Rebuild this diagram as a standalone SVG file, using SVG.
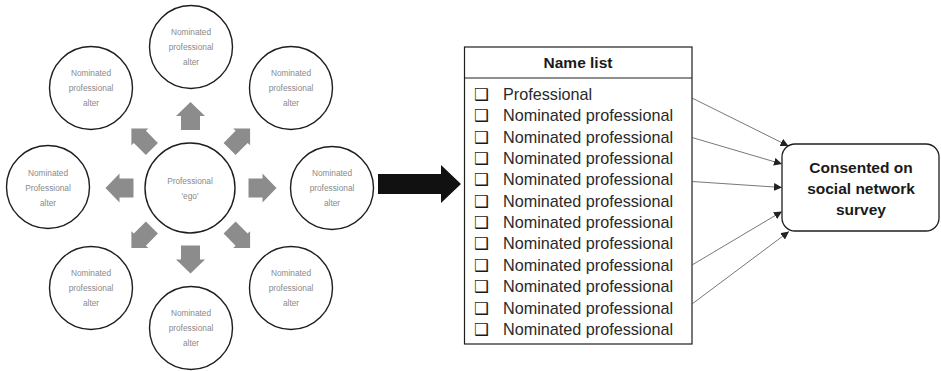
<svg xmlns="http://www.w3.org/2000/svg" xmlns:xlink="http://www.w3.org/1999/xlink" width="941" height="371" viewBox="0 0 941 371">
  <style>
    .circ { fill: #ffffff; stroke: #1e1e1e; stroke-width: 1.4; }
    .ctext { font-family: "Liberation Sans", Arial, sans-serif; font-size: 8.3px; fill: #8a8a8a; text-anchor: middle; }
    .blk { fill: #8c8c8c; }
    .list { font-family: "Liberation Sans", Arial, sans-serif; font-size: 16.2px; fill: #2a2a2a; }
    .chk { font-family: "DejaVu Sans", sans-serif; font-size: 16.5px; fill: #1a1a1a; }
    .head { font-family: "Liberation Sans", Arial, sans-serif; font-size: 15.5px; font-weight: bold; fill: #1a1a1a; text-anchor: middle; }
    .conn { stroke: #555555; stroke-width: 0.8; fill: none; marker-end: url(#tip); }
  </style>
  <defs>
    <!-- straight block arrow pointing right, centred on the origin -->
    <path id="blk" d="M-14,-9.5 H0 V-14.5 L14,0 L0,14.5 V9.5 H-14 Z"/>
    <!-- block arrow used on the diagonals -->
    <path id="blkd" d="M-14,-8.5 H3 V-12 L15,0 L3,12 V8.5 H-14 Z"/>
    <marker id="tip" viewBox="0 0 10 10" refX="10" refY="5" markerWidth="8" markerHeight="8" markerUnits="userSpaceOnUse" orient="auto">
      <path d="M0,0 L10,5 L0,10 Z" fill="#222222"/>
    </marker>
  </defs>

  <!-- ego network -->
  <g id="ego">
    <circle class="circ" cx="190" cy="188" r="45"/>
    <text class="ctext" x="190" y="184">Professional</text>
    <text class="ctext" x="190" y="199">'ego'</text>
  </g>
  <g id="alter-top">
    <circle class="circ" cx="191" cy="47" r="41.5"/>
    <text class="ctext" x="191" y="35">Nominated</text>
    <text class="ctext" x="191" y="50">professional</text>
    <text class="ctext" x="191" y="65">alter</text>
  </g>
  <g id="alter-top-left">
    <circle class="circ" cx="91" cy="88" r="41.5"/>
    <text class="ctext" x="91" y="76">Nominated</text>
    <text class="ctext" x="91" y="91">professional</text>
    <text class="ctext" x="91" y="106">alter</text>
  </g>
  <g id="alter-top-right">
    <circle class="circ" cx="291" cy="88" r="41.5"/>
    <text class="ctext" x="291" y="76">Nominated</text>
    <text class="ctext" x="291" y="91">professional</text>
    <text class="ctext" x="291" y="106">alter</text>
  </g>
  <g id="alter-left">
    <circle class="circ" cx="48" cy="187" r="41.5"/>
    <text class="ctext" x="48" y="176">Nominated</text>
    <text class="ctext" x="48" y="191">Professional</text>
    <text class="ctext" x="48" y="206">alter</text>
  </g>
  <g id="alter-right">
    <circle class="circ" cx="332" cy="188" r="41.5"/>
    <text class="ctext" x="332" y="176">Nominated</text>
    <text class="ctext" x="332" y="191">professional</text>
    <text class="ctext" x="332" y="206">alter</text>
  </g>
  <g id="alter-bottom-left">
    <circle class="circ" cx="91" cy="288" r="41.5"/>
    <text class="ctext" x="91" y="276">Nominated</text>
    <text class="ctext" x="91" y="291">professional</text>
    <text class="ctext" x="91" y="306">alter</text>
  </g>
  <g id="alter-bottom-right">
    <circle class="circ" cx="291" cy="288" r="41.5"/>
    <text class="ctext" x="291" y="276">Nominated</text>
    <text class="ctext" x="291" y="291">professional</text>
    <text class="ctext" x="291" y="306">alter</text>
  </g>
  <g id="alter-bottom">
    <circle class="circ" cx="191" cy="328" r="41.5"/>
    <text class="ctext" x="191" y="316">Nominated</text>
    <text class="ctext" x="191" y="331">professional</text>
    <text class="ctext" x="191" y="346">alter</text>
  </g>

  <!-- name list -->
  <g id="name-list">
    <rect x="464.5" y="47" width="227.5" height="297" fill="#ffffff" stroke="#1e1e1e" stroke-width="1.2"/>
    <line x1="464.5" y1="78" x2="692" y2="78" stroke="#1e1e1e" stroke-width="1.2"/>
    <text class="head" x="578" y="68">Name list</text>
    <g class="chk">
      <text x="474" y="100">❑</text>
      <text x="474" y="121.35">❑</text>
      <text x="474" y="142.7">❑</text>
      <text x="474" y="164.05">❑</text>
      <text x="474" y="185.4">❑</text>
      <text x="474" y="206.75">❑</text>
      <text x="474" y="228.1">❑</text>
      <text x="474" y="249.45">❑</text>
      <text x="474" y="270.8">❑</text>
      <text x="474" y="292.15">❑</text>
      <text x="474" y="313.5">❑</text>
      <text x="474" y="334.85">❑</text>
    </g>
    <g class="list">
      <text x="503" y="100">Professional</text>
      <text x="503" y="121.35">Nominated professional</text>
      <text x="503" y="142.7">Nominated professional</text>
      <text x="503" y="164.05">Nominated professional</text>
      <text x="503" y="185.4">Nominated professional</text>
      <text x="503" y="206.75">Nominated professional</text>
      <text x="503" y="228.1">Nominated professional</text>
      <text x="503" y="249.45">Nominated professional</text>
      <text x="503" y="270.8">Nominated professional</text>
      <text x="503" y="292.15">Nominated professional</text>
      <text x="503" y="313.5">Nominated professional</text>
      <text x="503" y="334.85">Nominated professional</text>
    </g>
  </g>

  <!-- survey outcome -->
  <g id="consented">
    <rect x="782" y="144" width="157" height="87" rx="13" ry="13" fill="#ffffff" stroke="#1e1e1e" stroke-width="1.3"/>
    <text class="head" x="861" y="173">Consented on</text>
    <text class="head" x="861" y="194">social network</text>
    <text class="head" x="861" y="215">survey</text>
  </g>

  <!-- connectors -->
  <g id="connectors">
    <use xlink:href="#blk" class="blk" transform="translate(190.5,116) rotate(-90)"/>
    <use xlink:href="#blk" class="blk" transform="translate(190.5,259.5) rotate(90)"/>
    <use xlink:href="#blk" class="blk" transform="translate(119.5,188) rotate(180)"/>
    <use xlink:href="#blk" class="blk" transform="translate(262.5,188)"/>
    <use xlink:href="#blkd" class="blk" transform="translate(142,139) rotate(-135)"/>
    <use xlink:href="#blkd" class="blk" transform="translate(239.5,139) rotate(-45)"/>
    <use xlink:href="#blkd" class="blk" transform="translate(142,237.5) rotate(135)"/>
    <use xlink:href="#blkd" class="blk" transform="translate(239.5,237.5) rotate(45)"/>

    <path d="M378,174 H441 V165 L461,184 L441,203 V194 H378 Z" fill="#111111"/>

    <line class="conn" x1="692" y1="98" x2="788.5" y2="146"/>
    <line class="conn" x1="692" y1="137.5" x2="782" y2="164"/>
    <line class="conn" x1="692" y1="181.5" x2="782" y2="187.5"/>
    <line class="conn" x1="692" y1="265" x2="782" y2="211.5"/>
    <line class="conn" x1="692" y1="304" x2="789" y2="231.5"/>
  </g>
</svg>
